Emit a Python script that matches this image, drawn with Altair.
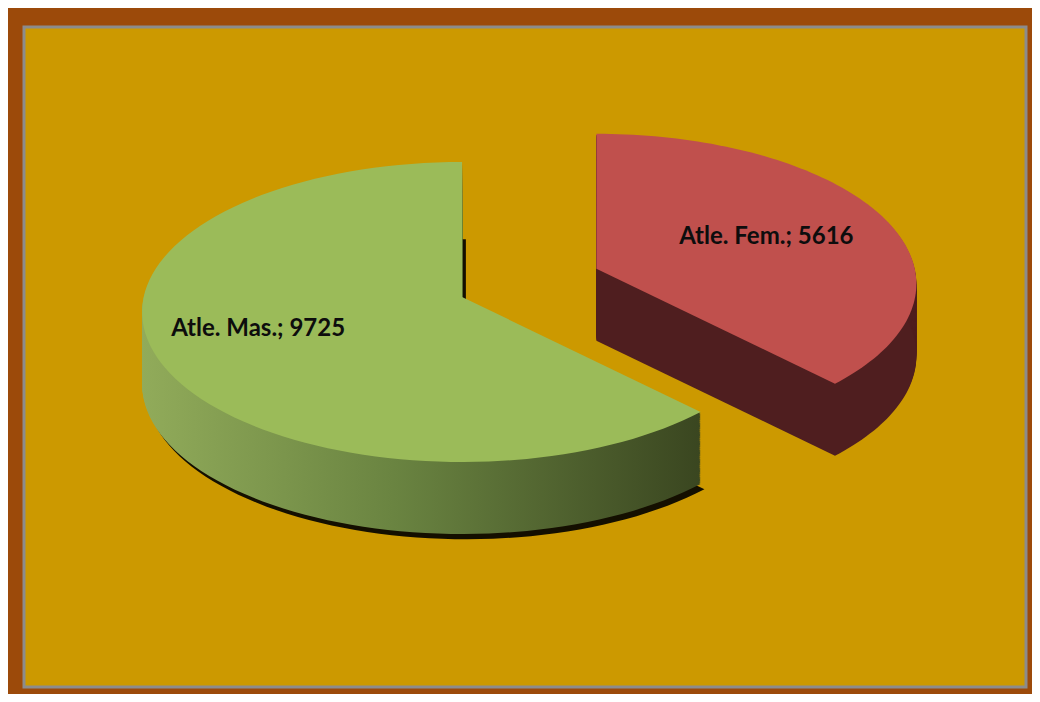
import altair as alt
import pandas as pd

# ---- data ----
categories = ["Atle. Fem.", "Atle. Mas."]
values = [5616, 9725]

# ---- style ----
TOP_COLORS = ["#C0504D", "#9BBB59"]
EXPLODED = "Atle. Fem."
EXPLODE = 0.46      # explosion, in radius units
APEX = 0.1          # apex above ellipse centre (perspective), radius units
DEPTH = 0.48        # thickness of the pie, in y radius units
NPTS = 100
NLAY = 64
LABEL_RX = 0.64
LABEL_RY = 0.52

df = pd.DataFrame({"category": categories, "value": values})

xs = alt.Scale(domain=[-1.369, 1.7625], nice=False, zero=False)
ys = alt.Scale(domain=[-2.5, 1.9], nice=False, zero=False)


def slices():
    return (
        alt.Chart(df)
        .transform_window(cum="sum(value)", frame=[None, 0])
        .transform_joinaggregate(total="sum(value)")
        .transform_calculate(a0="2*PI*(datum.cum-datum.value)/datum.total")
        .transform_calculate(a1="2*PI*datum.cum/datum.total")
        .transform_calculate(mid="(datum.a0+datum.a1)/2")
        .transform_calculate(ex=f"datum.category=='{EXPLODED}' ? {EXPLODE} : 0")
    )


def polygon():
    return (
        slices()
        .transform_calculate(idx=f"sequence(-1, {NPTS + 1})")
        .transform_flatten(["idx"])
        .transform_calculate(th=f"datum.a0 + (datum.a1-datum.a0)*max(datum.idx,0)/{NPTS}")
        .transform_calculate(px="(datum.idx<0 ? 0 : sin(datum.th)) + datum.ex*sin(datum.mid)")
        .transform_calculate(py=f"(datum.idx<0 ? {APEX} : cos(datum.th)) + datum.ex*cos(datum.mid)")
    )


def walls():
    return (
        polygon()
        .transform_calculate(k=f"sequence(1, {NLAY + 1})")
        .transform_flatten(["k"])
        .transform_calculate(wy=f"datum.py - {DEPTH}*datum.k/{NLAY}")
    )


green_grad = alt.LinearGradient(
    gradient="linear",
    stops=[
        alt.GradientStop(color="#91AB5A", offset=0),
        alt.GradientStop(color="#6A8441", offset=0.45),
        alt.GradientStop(color="#3A4620", offset=1),
    ],
    x1=0, x2=1, y1=0, y2=0,
)

shadow = (
    polygon()
    .transform_filter(alt.datum.category == "Atle. Mas.")
    .transform_calculate(sx="datum.px + 0.012", sy=f"datum.py - {DEPTH} - 0.035")
    .mark_line(filled=True, fill="#000000", fillOpacity=0.9, strokeWidth=0)
    .encode(
        x=alt.X("sx:Q", scale=xs, axis=None),
        y=alt.Y("sy:Q", scale=ys, axis=None),
        order="idx:Q",
        detail="category:N",
    )
)

green_wall = (
    walls()
    .transform_filter(alt.datum.category == "Atle. Mas.")
    .mark_line(filled=True, fill=green_grad, strokeWidth=0)
    .encode(
        x=alt.X("px:Q", scale=xs, axis=None),
        y=alt.Y("wy:Q", scale=ys, axis=None),
        order="idx:Q",
        detail=["category:N", "k:N"],
    )
)

red_wall = (
    walls()
    .transform_filter(alt.datum.category == "Atle. Fem.")
    .mark_line(filled=True, fill="#4F1E1F", strokeWidth=0)
    .encode(
        x=alt.X("px:Q", scale=xs, axis=None),
        y=alt.Y("wy:Q", scale=ys, axis=None),
        order="idx:Q",
        detail=["category:N", "k:N"],
    )
)

top = (
    polygon()
    .mark_line(filled=True, strokeWidth=0)
    .encode(
        x=alt.X("px:Q", scale=xs, axis=None),
        y=alt.Y("py:Q", scale=ys, axis=None),
        order="idx:Q",
        color=alt.Color("category:N", scale=alt.Scale(domain=categories, range=TOP_COLORS), legend=None),
    )
)

labels = (
    slices()
    .transform_calculate(lx=f"sin(datum.mid)*(datum.ex+{LABEL_RX})")
    .transform_calculate(ly=f"{APEX} + datum.ex*cos(datum.mid) + {LABEL_RY}*cos(datum.mid)")
    .transform_calculate(label="datum.category + '; ' + datum.value")
    .mark_text(font="Lato", fontWeight="bold", fontSize=24, color="#0D0D0D",
               align="center", baseline="middle", dx=-17)
    .encode(
        x=alt.X("lx:Q", scale=xs, axis=None),
        y=alt.Y("ly:Q", scale=ys, axis=None),
        text="label:N",
    )
)

chart = (
    alt.layer(shadow, green_wall, red_wall, top, labels)
    .properties(
        width=1002,
        height=660,
        autosize="none",
        padding={"left": 16, "top": 19, "right": 6, "bottom": 7},
        background="#9C4A0A",
    )
    .configure_view(fill="#CC9900", stroke="#8C8C8C", strokeWidth=3)
)

chart.save("out.html", embed_options={"renderer": "svg", "actions": False})
